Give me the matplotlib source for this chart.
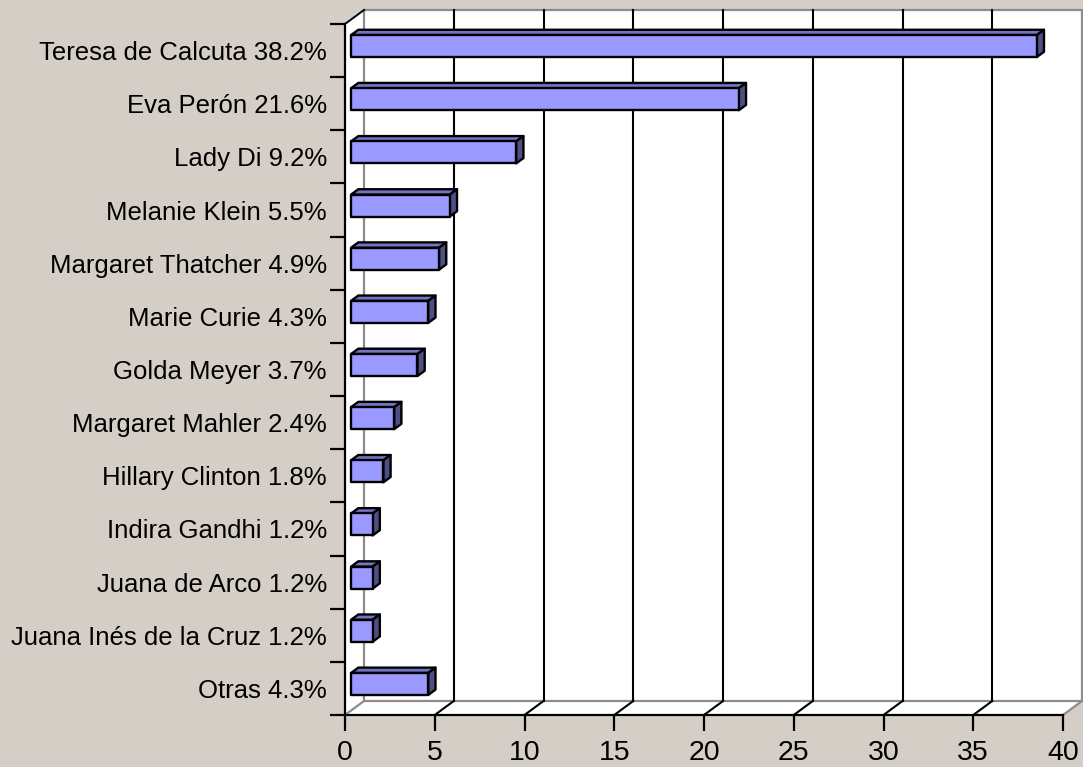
import matplotlib

matplotlib.use("Agg")
import matplotlib.pyplot as plt
import numpy as np
from matplotlib.patches import Polygon
from matplotlib.lines import Line2D
from matplotlib.transforms import IdentityTransform

NAMES = [
    "Teresa de Calcuta",
    "Eva Perón",
    "Lady Di",
    "Melanie Klein",
    "Margaret Thatcher",
    "Marie Curie",
    "Golda Meyer",
    "Margaret Mahler",
    "Hillary Clinton",
    "Indira Gandhi",
    "Juana de Arco",
    "Juana Inés de la Cruz",
    "Otras",
]
PERCENTS = [38.2, 21.6, 9.2, 5.5, 4.9, 4.3, 3.7, 2.4, 1.8, 1.2, 1.2, 1.2, 4.3]
X_TICKS = [0, 5, 10, 15, 20, 25, 30, 35, 40]

BG = "#D5CEC7"
FRONT = "#9999FF"
TOP = "#7474C4"
SIDE = "#4F4F85"
WALL_EDGE = "#8C8C8C"

# depth of the 3d box in pixels (display units, y up)
DEPTH_DX = 19.0
DEPTH_DY = 14.0
BAR_DEPTH = (0.32, 0.70)
BAR_HEIGHT = 0.414

plt.rcParams["font.family"] = ["Liberation Sans", "DejaVu Sans"]

fig = plt.figure(figsize=(10.83, 7.67), dpi=100, facecolor=BG)
ax = fig.add_axes([345 / 1083, 52 / 767, 718 / 1083, 691 / 767])
ax.patch.set_visible(False)
n = len(NAMES)
ax.set_xlim(X_TICKS[0], X_TICKS[-1])
ax.set_ylim(n - 0.5, -0.5)
y_top, y_bot = -0.5, n - 0.5
x_min, x_max = X_TICKS[0], X_TICKS[-1]


def px(x, y, f):
    """data point pushed back f (0=front, 1=back wall) into the box"""
    p = ax.transData.transform((x, y))
    return (p[0] + DEPTH_DX * f, p[1] + DEPTH_DY * f)


def face(points, **kw):
    poly = Polygon([px(*p) for p in points], closed=True,
                   transform=IdentityTransform(), clip_on=False, **kw)
    ax.add_artist(poly)


def seg(p0, p1, **kw):
    a, b = px(*p0), px(*p1)
    ax.add_artist(Line2D([a[0], b[0]], [a[1], b[1]],
                         transform=IdentityTransform(), clip_on=False, **kw))


# walls and floor
face([(x_min, y_top, 0), (x_min, y_top, 1), (x_min, y_bot, 1), (x_min, y_bot, 0)],
     facecolor="white", edgecolor="none", zorder=1)
face([(x_min, y_bot, 0), (x_max, y_bot, 0), (x_max, y_bot, 1), (x_min, y_bot, 1)],
     facecolor="white", edgecolor="none", zorder=1)
face([(x_min, y_top, 1), (x_max, y_top, 1), (x_max, y_bot, 1), (x_min, y_bot, 1)],
     facecolor="white", edgecolor=WALL_EDGE, linewidth=1.6, zorder=1.5)
seg((x_min, y_top, 0), (x_min, y_top, 1), color="black", linewidth=1.4, zorder=2)
seg((x_min, y_bot, 0), (x_min, y_bot, 1), color=WALL_EDGE, linewidth=1.6, zorder=2)
seg((x_max, y_bot, 0), (x_max, y_bot, 1), color=WALL_EDGE, linewidth=1.6, zorder=2)

# gridlines on the back wall + their floor diagonals
for xv in X_TICKS[1:-1]:
    seg((xv, y_top, 1), (xv, y_bot, 1), color="black", linewidth=1.5, zorder=2)
    seg((xv, y_bot, 0), (xv, y_bot, 1), color="black", linewidth=1.5, zorder=2)

# bars
f0, f1 = BAR_DEPTH
for i, v in enumerate(PERCENTS):
    t, b = i - BAR_HEIGHT / 2, i + BAR_HEIGHT / 2
    style = dict(edgecolor="black", linewidth=1.7, joinstyle="round", zorder=3)
    face([(0, t, f0), (v, t, f0), (v, t, f1), (0, t, f1)], facecolor=TOP, **style)
    face([(v, t, f0), (v, t, f1), (v, b, f1), (v, b, f0)], facecolor=SIDE, **style)
    face([(0, t, f0), (v, t, f0), (v, b, f0), (0, b, f0)], facecolor=FRONT, **style)

# front axes
for side in ["top", "right"]:
    ax.spines[side].set_visible(False)
for side in ["left", "bottom"]:
    ax.spines[side].set_color("black")
    ax.spines[side].set_linewidth(1.6)
    ax.spines[side].set_zorder(4)

ax.set_xticks(X_TICKS)
ax.set_xticklabels([str(t) for t in X_TICKS])
ax.tick_params(axis="x", which="major", direction="out", length=11.5, width=1.6,
               pad=6.5, labelsize=20.5, colors="black")

ax.set_yticks(np.arange(n))
ax.set_yticklabels([f"{name} {p}%" for name, p in zip(NAMES, PERCENTS)])
ax.set_yticks(np.arange(-0.5, n, 1), minor=True)
ax.tick_params(axis="y", which="major", length=0, pad=13, labelsize=18.5)
ax.tick_params(axis="y", which="minor", direction="out", length=10.5, width=1.6)

fig.savefig("out.png", dpi=100, facecolor=BG)
